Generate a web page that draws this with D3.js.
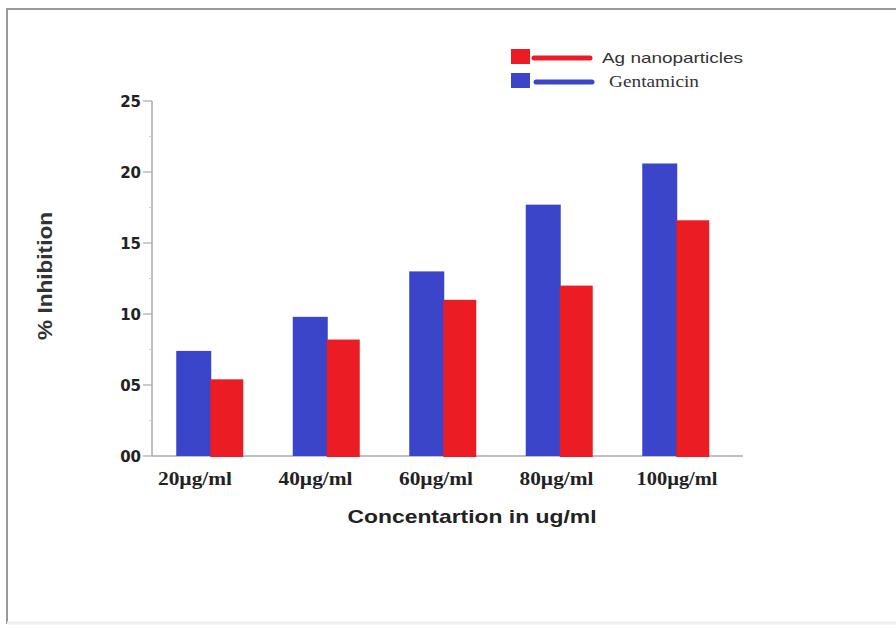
<!DOCTYPE html>
<html><head><meta charset="utf-8">
<script src="https://cdn.jsdelivr.net/npm/d3@7"></script>
<style>body{margin:0;background:#fff}svg{display:block}</style>
</head><body><svg id="c" width="896" height="628"></svg>
<script>
const categories = ["20µg/ml","40µg/ml","60µg/ml","80µg/ml","100µg/ml"];
const gentamicin = [7.4, 9.8, 13.0, 17.7, 20.6];
const agNano = [5.4, 8.2, 11.0, 12.0, 16.6];
const yTicks = [0,5,10,15,20,25];
const yTickLabels = ["00","05","10","15","20","25"];
const seriesNames = ["Ag nanoparticles","Gentamicin"];
const colors = {ag:"#ec1c24", gen:"#3a45c9"};

const svg = d3.select("#c");
function fit(sel, w){ sel.each(function(){ const n=this.getComputedTextLength(); if(n>0) d3.select(this).attr("textLength",w).attr("lengthAdjust","spacingAndGlyphs"); }); }

// frame
svg.append("rect").attr("x",7).attr("y",9).attr("width",900).attr("height",614)
  .attr("fill","none").attr("stroke","#9a9a9a").attr("stroke-width",2);
svg.append("line").attr("x1",7).attr("x2",896).attr("y1",623).attr("y2",623).attr("stroke","#eee").attr("stroke-width",3);

const x = d3.scaleBand().domain(categories).range([152,734.5]).padding(0);
const y = d3.scaleLinear().domain([0,25]).range([456,101]);
const labelX = d3.scalePoint().domain(categories).range([195,677]);
const barW = 34;

// axes
svg.append("line").attr("x1",152).attr("x2",152).attr("y1",y(25)).attr("y2",y(0)).attr("stroke","#aaa").attr("stroke-width",1.5);
svg.append("line").attr("x1",152).attr("x2",743).attr("y1",y(0)).attr("y2",y(0)).attr("stroke","#aaa").attr("stroke-width",1.5);
svg.selectAll(".tk").data(yTicks).enter().append("line").attr("x1",143).attr("x2",152)
  .attr("y1",d=>y(d)).attr("y2",d=>y(d)).attr("stroke","#aaa").attr("stroke-width",1.2);
svg.selectAll(".mtk").data(yTicks.slice(0,-1).map(d=>d+2.5)).enter().append("line").attr("x1",149).attr("x2",152)
  .attr("y1",d=>y(d)).attr("y2",d=>y(d)).attr("stroke","#ccc").attr("stroke-width",1);
svg.selectAll(".tl").data(yTicks).enter().append("text").attr("x",141).attr("y",d=>y(d)+5.5)
  .attr("text-anchor","end").attr("font-family","DejaVu Sans").attr("font-weight","bold")
  .attr("font-size",15).attr("fill","#222").text((d,i)=>yTickLabels[i]);

// bars
const g = svg.append("g");
g.selectAll(".gb").data(gentamicin).enter().append("rect")
  .attr("x",(d,i)=>x(categories[i])+x.bandwidth()/2-barW).attr("width",barW+1)
  .attr("y",d=>y(d)).attr("height",d=>y(0)-y(d)).attr("fill",colors.gen);
g.selectAll(".rb").data(agNano).enter().append("rect")
  .attr("x",(d,i)=>x(categories[i])+x.bandwidth()/2).attr("width",barW-1)
  .attr("y",d=>y(d)).attr("height",d=>y(0)-y(d)+1).attr("fill",colors.ag);

// x labels
svg.selectAll(".xl").data(categories).enter().append("text")
  .attr("x",d=>labelX(d)).attr("y",485).attr("text-anchor","middle")
  .attr("font-family","Liberation Serif").attr("font-weight","bold").attr("font-size",18)
  .attr("fill","#222").text(d=>d).call(fit, 0).each(function(d,i){
    d3.select(this).attr("textLength", i===4?81:74).attr("lengthAdjust","spacingAndGlyphs");});

// axis titles
svg.append("text").attr("x",472).attr("y",523).attr("text-anchor","middle")
  .attr("font-family","Liberation Sans").attr("font-weight","bold").attr("font-size",19)
  .attr("fill","#222").text("Concentartion in ug/ml").call(fit,249);
svg.append("text").attr("transform","translate(52,276) rotate(-90)").attr("text-anchor","middle")
  .attr("font-family","Liberation Sans").attr("font-weight","bold").attr("font-size",20)
  .attr("fill","#333").text("% Inhibition").call(fit,128);

// legend
const leg = [{name:seriesNames[0],c:colors.ag,y:57,fam:"Liberation Sans",w:141,tx:602,fs:15,lx1:534,lx2:590},
             {name:seriesNames[1],c:colors.gen,y:81,fam:"Liberation Serif",w:90,tx:609,fs:17,lx1:536,lx2:592}];
leg.forEach(l=>{
  svg.append("rect").attr("x",511).attr("y",l.y-8).attr("width",19).attr("height",15).attr("fill",l.c);
  svg.append("line").attr("x1",l.lx1).attr("x2",l.lx2).attr("y1",l.y+1).attr("y2",l.y+1)
    .attr("stroke",l.c).attr("stroke-width",5).attr("stroke-linecap","round");
  svg.append("text").attr("x",l.tx).attr("y",l.y+6).attr("font-family",l.fam).attr("font-size",l.fs)
    .attr("fill","#333").text(l.name).call(fit,l.w);
});
</script></body></html>
